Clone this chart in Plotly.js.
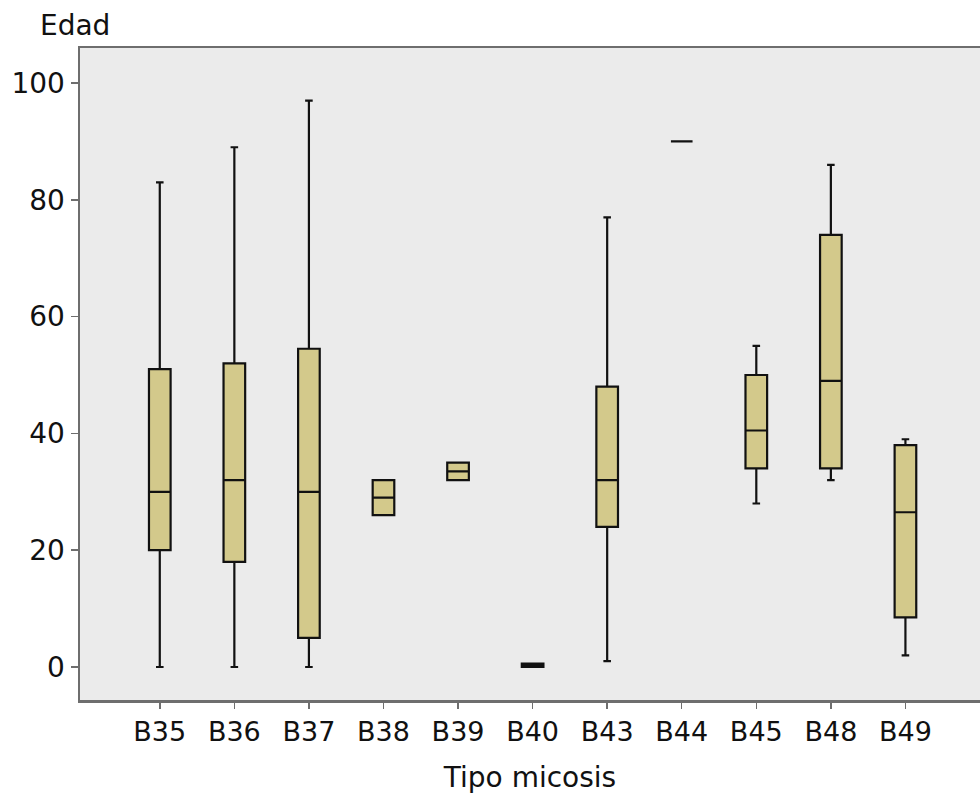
<!DOCTYPE html>
<html>
<head>
<meta charset="utf-8">
<script src="https://cdn.plot.ly/plotly-3.0.1.min.js"></script>
<style>html,body{margin:0;padding:0;background:#fff;}#chart{width:980px;height:794px;}</style>
</head>
<body>
<div id="chart"></div>
<script>
const categories = ["B35","B36","B37","B38","B39","B40","B43","B44","B45","B48","B49"];
const lowerWhisker = [0, 0, 0, 26, 32, 0, 1, 90, 28, 32, 2];
const q1Values     = [20, 18, 5, 26, 32, 0, 24, 90, 34, 34, 8.5];
const medianValues = [30, 32, 30, 29, 33.5, 0.3, 32, 90, 40.5, 49, 26.5];
const q3Values     = [51, 52, 54.5, 32, 35, 0.6, 48, 90, 50, 74, 38];
const upperWhisker = [83, 89, 97, 32, 35, 0.6, 77, 90, 55, 86, 39];
const yTicks = [0, 20, 40, 60, 80, 100];

const font = "DejaVu Sans, Verdana, sans-serif";

const trace = {
  type: "box",
  x: categories,
  q1: q1Values,
  median: medianValues,
  q3: q3Values,
  lowerfence: lowerWhisker,
  upperfence: upperWhisker,
  boxpoints: false,
  width: 0.29,
  whiskerwidth: 0.35,
  fillcolor: "#D3C98B",
  line: {color: "#111111", width: 2.2},
  hoverinfo: "skip",
  showlegend: false
};

const layout = {
  width: 980, height: 794,
  margin: {l: 80, r: 0, t: 48, b: 94},
  paper_bgcolor: "#ffffff",
  plot_bgcolor: "#EBEBEB",
  showlegend: false,
  xaxis: {
    type: "category",
    range: [-1.07, 11.0],
    showline: true, linecolor: "#6E6E6E", linewidth: 2.5, mirror: true,
    ticks: "outside", ticklen: 6, tickwidth: 1.5, tickcolor: "#6E6E6E",
    showgrid: false, zeroline: false,
    tickfont: {family: font, size: 27, color: "#111"},
    title: {text: "Tipo micosis", font: {family: font, size: 28, color: "#111"}, standoff: 22}
  },
  yaxis: {
    range: [-5.65, 106],
    tickvals: yTicks,
    ticktext: yTicks.map(String),
    showline: true, linecolor: "#6E6E6E", linewidth: 2.5,
    ticks: "outside", ticklen: 7, tickwidth: 1.5, tickcolor: "#6E6E6E",
    showgrid: false, zeroline: false,
    tickfont: {family: font, size: 28, color: "#111"}
  },
  annotations: [{
    text: "Edad", xref: "paper", yref: "paper",
    x: -0.047, y: 1.0, xanchor: "left", yanchor: "bottom", yshift: 4,
    showarrow: false, font: {family: font, size: 28, color: "#111"}
  }]
};

Plotly.newPlot("chart", [trace], layout, {displayModeBar: false, staticPlot: true});
</script>
</body>
</html>
